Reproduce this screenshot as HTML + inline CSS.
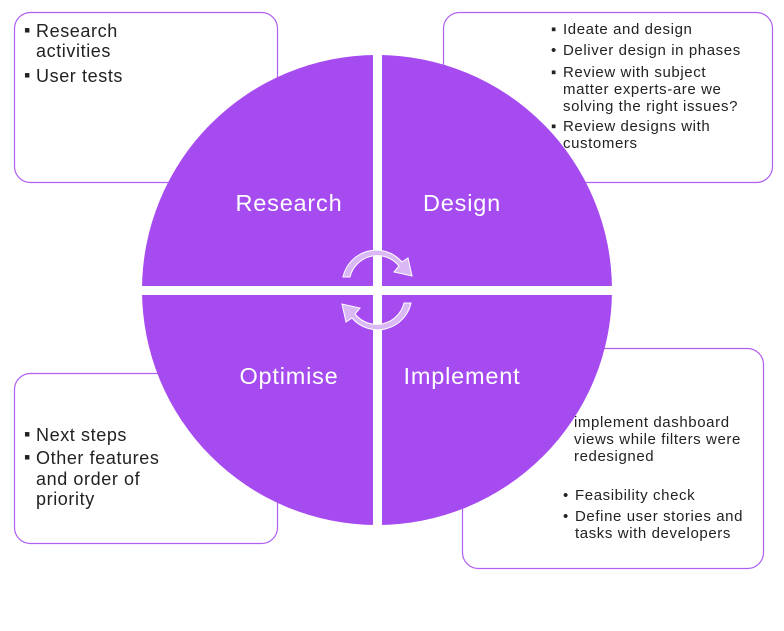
<!DOCTYPE html>
<html><head><style>
body{margin:0;background:#fff;width:784px;height:631px;overflow:hidden}
svg{display:block}
text{font-family:"Liberation Sans",sans-serif}
</style></head><body>
<svg width="784" height="631" xmlns="http://www.w3.org/2000/svg">
<g fill="#fff" stroke="#b060f0" stroke-width="1.2">
<rect x="14.5" y="12.5" width="263" height="170" rx="16"/>
<rect x="443.5" y="12.5" width="329" height="170" rx="16"/>
<rect x="14.5" y="373.5" width="263" height="170" rx="16"/>
<rect x="462.5" y="348.5" width="301" height="220" rx="16"/>
</g>
<circle cx="377" cy="290" r="235" fill="#a64bf0"/>
<rect x="373" y="50" width="9" height="480" fill="#fff"/>
<rect x="138" y="286" width="480" height="9" fill="#fff"/>
<g fill="#d9b8f5" stroke="#fff" stroke-width="1">
<path d="M343,277 A34,34 0 0 1 402,262 L408,258 L412,276 L394,272 L399,266 A28,28 0 0 0 350,277 Z"/>
<path d="M411,303 A34,34 0 0 1 352,318 L346,322 L342,304 L360,308 L355,314 A28,28 0 0 0 404,303 Z"/>
</g>
<g fill="#fff" font-size="23.5" text-anchor="middle" letter-spacing="0.8">
<text x="289" y="211">Research</text>
<text x="462" y="211">Design</text>
<text x="289" y="384">Optimise</text>
<text x="462" y="384">Implement</text>
</g>
<g fill="#222" font-size="18" letter-spacing="0.6">
<text x="24" y="36">▪</text><text x="36" y="37">Research</text>
<text x="36" y="57">activities</text>
<text x="24" y="81">▪</text><text x="36" y="82">User tests</text>
<text x="24" y="440">▪</text><text x="36" y="441">Next steps</text>
<text x="24" y="463">▪</text><text x="36" y="464">Other features</text>
<text x="36" y="485">and order of</text>
<text x="36" y="505">priority</text>
</g>
<g fill="#222" font-size="15" letter-spacing="0.6">
<text x="551" y="34">▪</text><text x="563" y="34">Ideate and design</text>
<text x="551" y="55">•</text><text x="563" y="55">Deliver design in phases</text>
<text x="551" y="77">▪</text><text x="563" y="77">Review with subject</text>
<text x="563" y="94">matter experts-are we</text>
<text x="563" y="111">solving the right issues?</text>
<text x="551" y="131">▪</text><text x="563" y="131">Review designs with</text>
<text x="563" y="148">customers</text>
<text x="574" y="427">implement dashboard</text>
<text x="574" y="444">views while filters were</text>
<text x="574" y="461">redesigned</text>
<text x="563" y="500">•</text><text x="575" y="500">Feasibility check</text>
<text x="563" y="521">•</text><text x="575" y="521">Define user stories and</text>
<text x="575" y="538">tasks with developers</text>
</g>
</svg>
</body></html>
